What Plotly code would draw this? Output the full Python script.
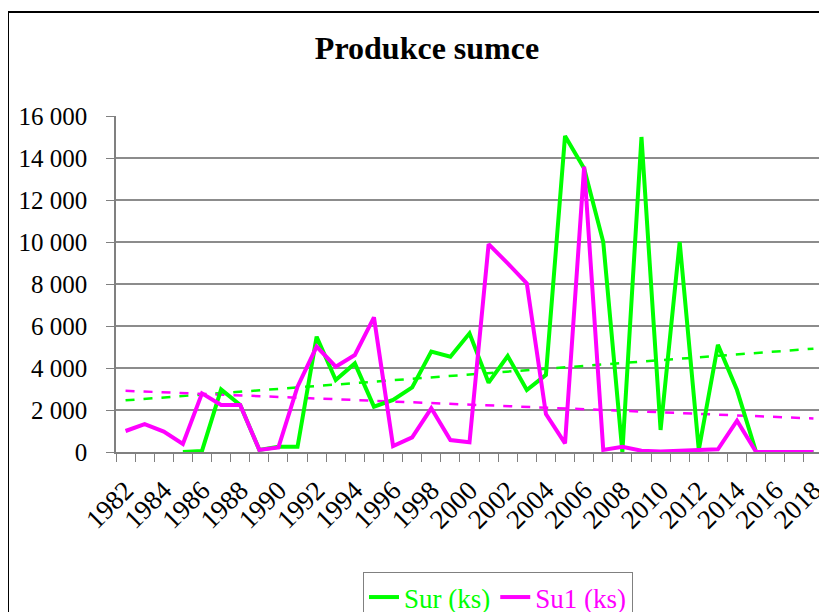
import numpy as np
import plotly.graph_objects as go

years = list(range(1982, 2019))
sur = [None, None, None, 0, 50, 2980, 2240, 100, 250, 250,
       5490, 3430, 4220, 2160, 2480, 3080, 4780, 4540, 5650, 3300,
       4570, 2950, 3670, 15050, 13500, 10000, 0, 15000, 1050, 10000,
       100, 5100, 2950, 0, 0, 0, 0]
su1 = [1000, 1330, 970, 380, 2790, 2240, 2240, 100, 220, 3110,
       5020, 4060, 4620, 6410, 285, 700, 2080, 570, 460, 9900,
       8980, 8030, 1810, 410, 13590, 100, 250, 60, 20, 60,
       60, 130, 1490, 0, 0, 0, 0]
y_ticks = [0, 2000, 4000, 6000, 8000, 10000, 12000, 14000, 16000]
x_tick_years = list(range(1982, 2019, 2))

GREEN = "#00FF00"
MAGENTA = "#FF00FF"
FONT = "Liberation Serif"


def trend(vals):
    idx = np.arange(1, len(vals) + 1)
    mask = np.array([v is not None for v in vals])
    v = np.array([0 if x is None else x for x in vals], dtype=float)
    k, q = np.polyfit(idx[mask], v[mask], 1)
    return list(k * idx + q)


fig = go.Figure()
fig.add_trace(go.Scatter(x=years, y=trend(sur), mode="lines", showlegend=False,
                         line=dict(color=GREEN, width=2.5, dash="dash"), hoverinfo="skip"))
fig.add_trace(go.Scatter(x=years, y=trend(su1), mode="lines", showlegend=False,
                         line=dict(color=MAGENTA, width=2.5, dash="dash"), hoverinfo="skip"))
fig.add_trace(go.Scatter(x=years, y=sur, mode="lines",
                         name='<span style="color:#00FF00">Sur (ks)</span>',
                         line=dict(color=GREEN, width=4)))
fig.add_trace(go.Scatter(x=years, y=su1, mode="lines",
                         name='<span style="color:#FF00FF">Su1 (ks)</span>',
                         line=dict(color=MAGENTA, width=4)))

# page body adds an 8px offset; target screen coords are shifted accordingly
OFF = 8
W, H = 827, 612
L, T = 116 - OFF, 116 - OFF
pw, ph = 707, 336
R = W - L - pw
B = H - T - ph


def px(x):
    return (x - OFF - L) / pw


def py(y):
    return (T + ph - (y - OFF)) / ph


fig.add_shape(type="rect", xref="paper", yref="paper",
              x0=px(8), x1=px(850), y0=py(12), y1=py(660),
              line=dict(color="black", width=2), layer="above")

fig.update_layout(
    width=W, height=H,
    margin=dict(l=L, r=R, t=T, b=B, autoexpand=False),
    paper_bgcolor="white", plot_bgcolor="white",
    separators=". ",
    font=dict(family=FONT, color="black"),
    title=dict(text="<b>Produkce sumce</b>", x=px(427), xanchor="center",
               xref="paper", y=1 - (48 - OFF) / H, yref="container", yanchor="middle",
               font=dict(family=FONT, size=32, color="black")),
    xaxis=dict(range=[1981.5, 2018.5], tickmode="array", tickvals=x_tick_years,
               ticktext=[str(y) for y in x_tick_years], tickangle=-45,
               tickfont=dict(family=FONT, size=27, color="black"),
               ticks="", showgrid=False, zeroline=False, automargin=False,
               showline=True, linecolor="#808080", linewidth=1.5,
               ticklabelstandoff=10,
               minor=dict(ticks="outside", tick0=1981.5, dtick=1, ticklen=8,
                          tickcolor="#808080", tickwidth=1, showgrid=False)),
    yaxis=dict(range=[0, 16000], tickvals=y_ticks, tickformat=",d",
               tickfont=dict(family=FONT, size=25, color="black"),
               ticks="outside", ticklen=8, tickcolor="#808080",
               showgrid=True, gridcolor="#8c8c8c", gridwidth=1.5, automargin=False,
               zeroline=False, showline=True, linecolor="#808080", linewidth=1.5,
               ticklabelstandoff=14),
    legend=dict(orientation="h", x=(498 - OFF) / W, xref="container", xanchor="center",
                y=1 - (572 - OFF) / H, yref="container", yanchor="top",
                bordercolor="#808080", borderwidth=1,
                font=dict(family=FONT, size=27), itemwidth=30),
)

fig.write_html("out.html")
